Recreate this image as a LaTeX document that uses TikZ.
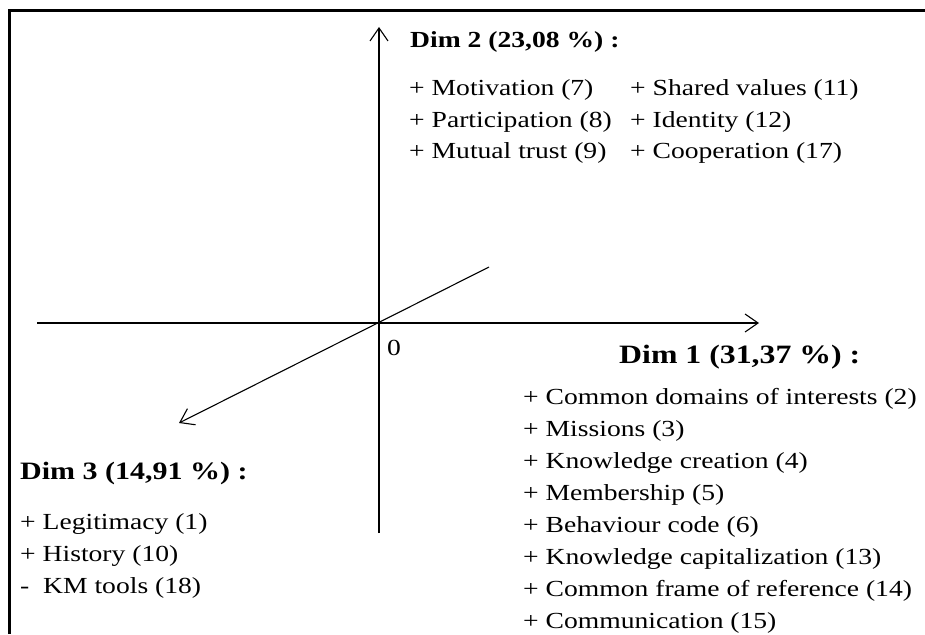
\documentclass[tikz,border=0pt]{standalone}
\usepackage{fontspec}
\setmainfont{Liberation Serif}[FakeStretch=1.2]
\usetikzlibrary{arrows.meta}
\tikzset{
  axis/.style={line width=1.1pt, -{Straight Barb[length=13pt,width=18pt,line width=1.1pt]}},
  txt/.style={anchor=base west, inner sep=0pt, font=\fontsize{23}{27}\selectfont},
  head/.style={txt, font=\fontsize{23}{27}\selectfont\bfseries},
  frameline/.style={line width=3pt}
}
\begin{document}
\begin{tikzpicture}[x=1pt,y=-1pt]
\useasboundingbox (0,0) rectangle (925,634);
\fill[white] (0,0) rectangle (925,634);
% frame (top and left edges)
\coordinate (fl) at (9.5,634);
\coordinate (ftl) at (9.5,11);
\coordinate (ftr) at (925,11);
\draw[frameline] (fl) -- (ftl) -- (ftr);
% axes
\coordinate (O) at (379,323);
\coordinate (vtop) at (379,27);
\coordinate (vbot) at (379,533);
\coordinate (hleft) at (37,323);
\coordinate (hright) at (759,323);
\coordinate (dup) at (489,267);
\coordinate (dtip) at (179,423);
\draw[axis] (vbot) -- (vtop);
\draw[axis] (hleft) -- (hright);
\draw[axis] (dup) -- (dtip);
\node[txt] (zero) at (387,355) {0};
% Dim 2
\node[head] (d2) at (410,48) {Dim 2 (23,08 \%) :};
\node[txt] (m7) at (409,95) {+ Motivation (7)};
\node[txt] (p8) at (409,127) {+ Participation (8)};
\node[txt] (t9) at (409,158) {+ Mutual trust (9)};
\node[txt] (s11) at (630,95) {+ Shared values (11)};
\node[txt] (i12) at (630,127) {+ Identity (12)};
\node[txt] (c17) at (630,158) {+ Cooperation (17)};
% Dim 1
\node[head, font=\fontsize{26.5}{30}\selectfont\bfseries] (d1) at (619,363) {Dim 1 (31,37 \%) :};
\node[txt] (a2) at (523,404) {+ Common domains of interests (2)};
\node[txt] (a3) at (523,436) {+ Missions (3)};
\node[txt] (a4) at (523,468) {+ Knowledge creation (4)};
\node[txt] (a5) at (523,500) {+ Membership (5)};
\node[txt] (a6) at (523,532) {+ Behaviour code (6)};
\node[txt] (a13) at (523,564) {+ Knowledge capitalization (13)};
\node[txt] (a14) at (523,596) {+ Common frame of reference (14)};
\node[txt] (a15) at (523,628) {+ Communication (15)};
% Dim 3
\node[head, font=\fontsize{25}{29}\selectfont\bfseries] (d3) at (20,479) {Dim 3 (14,91 \%) :};
\node[txt] (b1) at (20,529) {+ Legitimacy (1)};
\node[txt] (b10) at (20,561) {+ History (10)};
\node[txt] (b18) at (20,593) {-\ \ KM tools (18)};
\end{tikzpicture}
\end{document}
